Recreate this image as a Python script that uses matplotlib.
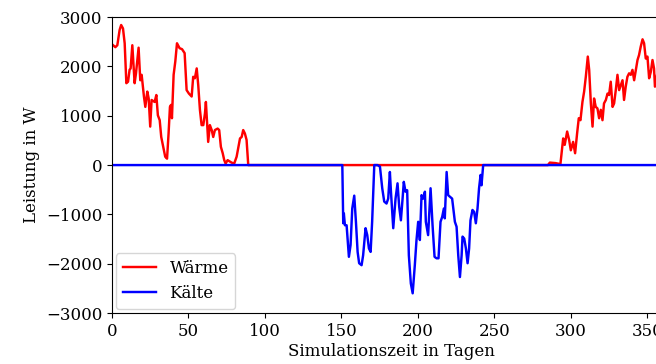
import matplotlib
matplotlib.use("Agg")
import matplotlib.pyplot as plt

plt.rcParams["font.family"] = "DejaVu Serif"
plt.rcParams["font.size"] = 12

# Heating power (Wärme), day -> W
waerme_tage = [0, 2.2, 3.5, 5, 6, 7.2, 8.3, 9.4, 10.5, 11.5, 12.2, 13.3, 14.8, 15.7, 17.4,
               18.5, 19.4, 20.9, 21.8, 23.1, 24, 25, 25.9, 27.9, 29, 30, 31.2, 32.2, 33.5,
               34.8, 36, 37, 37.9, 38.6, 39.2, 40.3, 41.4, 42.5, 44.2, 45.8, 47.5, 48.8,
               50.3, 52.1, 53.1, 54.2, 55.4, 56.4, 57.5, 58.6, 59.7, 60.8, 61.4, 62.3, 62.9,
               64, 65.2, 66.2, 67.3, 69.1, 70.1, 71.2, 72.4, 73.4, 74.3, 75.6, 77.1, 78.2,
               79.9, 81.5, 82.5, 83.7, 84.8, 85.8, 86.9, 88, 89.1,
               285, 286.3, 290, 293.2, 295, 296, 297.6, 298.9, 300, 301.5, 302.8, 304.1,
               305.2, 306.3, 307.6, 308.7, 309.8, 311.1, 312, 313.1, 314.2, 315.2, 316.3,
               317.4, 318.5, 319.6, 320.7, 321.7, 322.9, 324, 325, 326.1, 327.3, 328.3,
               329.4, 330.5, 331.6, 332.7, 333.8, 334.8, 335.9, 337, 338.1, 339.2, 340.3,
               341.4, 342.5, 343.6, 344.6, 345.7, 346.9, 347.9, 349, 350.1, 351.2, 352.3,
               353.4, 354.4, 355, 356.5, 358, 360, 362, 364]
waerme_werte = [2450, 2390, 2430, 2740, 2840, 2770, 2470, 1660, 1690, 1930, 1960, 2430, 1660,
                1860, 2380, 1720, 1830, 1390, 1180, 1490, 1350, 780, 1320, 1280, 1420, 1010,
                910, 570, 370, 170, 130, 640, 1180, 1220, 950, 1830, 2100, 2470, 2370, 2350,
                2270, 1520, 1450, 1390, 1790, 1760, 1960, 1620, 1120, 810, 810, 1050, 1280,
                780, 470, 810, 710, 570, 710, 740, 710, 370, 240, 100, 30, 100, 70, 50, 30,
                170, 340, 540, 570, 710, 640, 510, 0,
                0, 50, 40, 20, 540, 410, 680, 510, 300, 470, 240, 640, 950, 910, 1280, 1490,
                1790, 2200, 1930, 1250, 780, 1350, 1180, 1150, 950, 1120, 910, 1250, 1320,
                1450, 1420, 1690, 1180, 1250, 1520, 1830, 1520, 1620, 1720, 1320, 1590, 1790,
                1860, 1830, 1930, 1720, 1930, 2130, 2230, 2400, 2550, 2470, 2160, 2200, 1760,
                1890, 2130, 1960, 1590, 1850, 2050, 1900, 2150, 2000]

# Cooling power (Kälte), day -> W
kaelte_tage = [0, 150.6, 151.2, 151.6, 152.3, 153.4, 154.9, 156, 157.1, 158.4, 159.5, 160.6,
               161.6, 163.2, 164.2, 165.8, 166.9, 168, 169.1, 170.1, 171.5, 173.6, 175.2,
               176.7, 178, 179.5, 180.6, 181.7, 182.4, 183.9, 185.4, 186.7, 187.8, 188.9,
               190, 190.8, 191.9, 193, 194.1, 195.4, 196.6, 198, 199.1, 200.2, 201.3, 202.4,
               203.5, 204.6, 205.2, 206.7, 208.3, 209.6, 210.9, 212.2, 213.5, 214.8, 215.9,
               217, 217.6, 218.8, 219.8, 220.9, 222.4, 224.2, 225.3, 226.4, 227.5, 228.6,
               229.2, 230.3, 231.4, 232.5, 233.5, 234.4, 235.7, 236.8, 237.9, 239, 240, 241,
               241.6, 242.7, 364]
kaelte_werte = [0, 0, -1180, -980, -1220, -1220, -1860, -1620, -880, -620, -1150, -1760,
                -1990, -2030, -1830, -1280, -1420, -1690, -1760, -1150, 0, 0, -30, -470, -740,
                -780, -680, -140, -540, -1280, -680, -370, -850, -1120, -680, -340, -540, -510,
                -1830, -2400, -2600, -2030, -1520, -1150, -1520, -610, -680, -540, -1150,
                -1420, -470, -1220, -1860, -1890, -1890, -1150, -1050, -880, -1080, -140, -610,
                -640, -680, -1150, -1250, -1830, -2270, -1830, -1450, -1490, -1690, -1990,
                -1690, -1120, -910, -950, -1180, -880, -470, -200, -410, 0, 0]

# Heating stays at zero through the cooling season
waerme_plot_tage = waerme_tage[:77] + [150, 243] + waerme_tage[77:]
waerme_plot_werte = waerme_werte[:77] + [0, 0] + waerme_werte[77:]

fig = plt.figure(figsize=(6.56, 3.64), dpi=100)
ax = fig.add_axes([0.1707, 0.14, 0.851, 0.813])

ax.plot(waerme_plot_tage, waerme_plot_werte, color="red", lw=1.75, label="Wärme")
ax.plot(kaelte_tage, kaelte_werte, color="blue", lw=1.75, label="Kälte")

ax.set_xlim(0, 365)
ax.set_ylim(-3000, 3000)
ax.set_xticks(range(0, 351, 50))
ax.set_yticks(range(-3000, 3001, 1000))
ax.set_xlabel("Simulationszeit in Tagen", labelpad=2)
ax.set_ylabel("Leistung in W")
ax.legend(loc="lower left", borderaxespad=0.25)

fig.savefig("out.png", dpi=100)
